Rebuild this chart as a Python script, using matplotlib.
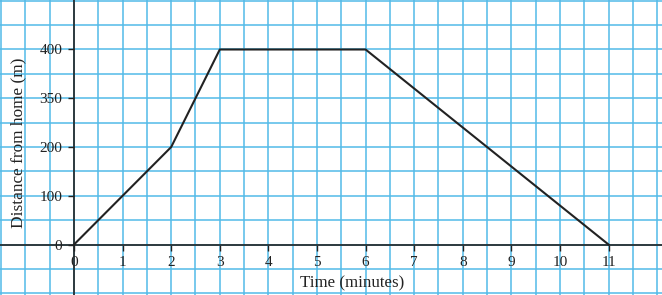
import numpy as np
import matplotlib
matplotlib.use("Agg")
import matplotlib.pyplot as plt

# journey: time (minutes) vs distance from home (m)
time_min = [0, 2, 3, 6, 11]
distance_m = [0, 200, 400, 400, 0]

x_ticks = list(range(0, 12))
y_ticks = [0, 100, 200, 300, 400]
y_tick_labels = ["0", "100", "200", "350", "400"]  # as printed in the original

grid_color = "#52bbe8"

plt.rcParams["font.family"] = ["Liberation Serif", "DejaVu Serif"]

fig = plt.figure(figsize=(6.62, 2.95), dpi=100)
ax = fig.add_axes([0, 0, 1, 1])

ax.set_xlim(-1.523, 12.10)
ax.set_ylim(-103.5, 501.5)

# half-unit grid (major + minor so integer lines are kept)
ax.set_xticks(np.arange(-1.5, 12.01, 0.5), minor=True)
ax.set_yticks(np.arange(-100, 501, 50), minor=True)
ax.tick_params(which="minor", length=0)

ax.set_xticks(x_ticks)
ax.set_xticklabels([str(t) for t in x_ticks])
ax.set_yticks(y_ticks)
ax.set_yticklabels(y_tick_labels)
ax.grid(which="both", color=grid_color, linewidth=1.1)
ax.tick_params(which="major", direction="out", length=4.3, width=1,
               color="#222222", labelsize=11, labelcolor="#222222", pad=4)
ax.set_axisbelow(True)

for side in ["top", "right"]:
    ax.spines[side].set_visible(False)
ax.spines["left"].set_position(("data", 0))
ax.spines["bottom"].set_position(("data", 0))
for side in ["left", "bottom"]:
    ax.spines[side].set_color("#222222")
    ax.spines[side].set_linewidth(1.2)

ax.plot(time_min, distance_m, color="#222222", linewidth=1.5, zorder=5)

ax.text(5.72, -79, "Time (minutes)", ha="center", va="center",
        fontsize=12.2, color="#222222")
ax.text(-1.15, 209, "Distance from home (m)", ha="center", va="center",
        rotation=90, fontsize=12.4, color="#222222")

fig.savefig("out.png", dpi=100)
